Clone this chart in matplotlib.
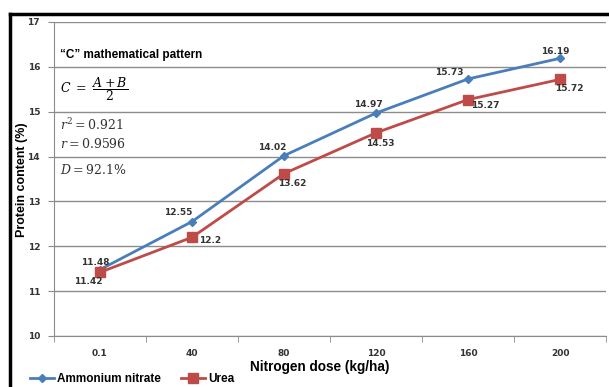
import matplotlib.pyplot as plt
from matplotlib.lines import Line2D

# data
doses = ["0.1", "40", "80", "120", "160", "200"]
ammonium_nitrate = [11.48, 12.55, 14.02, 14.97, 15.73, 16.19]
urea = [11.42, 12.2, 13.62, 14.53, 15.27, 15.72]

# label offsets (pixels) for the data labels
an_offsets = [(-5, 7), (-14, 9), (-12, 8), (-8, 9), (-19, 6), (-5, 7)]
urea_offsets = [(-12, -9), (18, -3), (8, -10), (4, -11), (17, -6), (9, -9)]

blue = "#4A7EBB"
red = "#BE4B48"
grid_col = "#8C8C8C"

plt.rcParams["mathtext.fontset"] = "dejavuserif"

fig = plt.figure(figsize=(6.09, 3.87), dpi=100)
ax = fig.add_axes([54 / 609, 1 - 336 / 387, 552 / 609, 314 / 387])

x = list(range(len(doses)))
ax.plot(x, ammonium_nitrate, color=blue, lw=2, marker="D", ms=4,
        label="Ammonium nitrate")
ax.plot(x, urea, color=red, lw=2, marker="s", ms=6.5, label="Urea")

for i, v in enumerate(ammonium_nitrate):
    ax.annotate(f"{v:g}", (i, v), xytext=an_offsets[i], textcoords="offset pixels",
                ha="center", va="center", fontsize=6.5, fontweight="bold",
                color="#333333")
for i, v in enumerate(urea):
    ax.annotate(f"{v:g}", (i, v), xytext=urea_offsets[i], textcoords="offset pixels",
                ha="center", va="center", fontsize=6.5, fontweight="bold",
                color="#333333")

ax.set_xlim(-0.5, len(doses) - 0.5)
ax.set_ylim(10, 17)
ax.set_yticks(range(10, 18))
ax.set_xticks(x)
ax.set_xticklabels(doses)
ax.set_xticks([i - 0.5 for i in range(len(doses) + 1)], minor=True)
ax.tick_params(axis="x", which="major", length=0, pad=9)
ax.tick_params(axis="x", which="minor", length=4, color=grid_col)
ax.tick_params(axis="y", length=4, color=grid_col, pad=6)
for lab in ax.get_xticklabels() + ax.get_yticklabels():
    lab.set_fontsize(6.5)
    lab.set_fontweight("bold")
    lab.set_color("#333333")

ax.grid(axis="y", color=grid_col, lw=1)
ax.set_axisbelow(True)
for s in ["top", "right"]:
    ax.spines[s].set_visible(False)
for s in ["left", "bottom"]:
    ax.spines[s].set_color(grid_col)

# axis titles placed where the reference has them
fig.text(320 / 609, 1 - 367 / 387, "Nitrogen dose (kg/ha)", fontsize=9.8,
         fontweight="bold", ha="center", va="center", family="Liberation Sans")
fig.text(22 / 609, 1 - 180 / 387, "Protein content (%)", fontsize=9,
         fontweight="bold", ha="center", va="center", rotation=90,
         family="Liberation Sans")

# pattern text block
ax.text(0.011, 0.895, "\u201cC\u201d mathematical pattern", transform=ax.transAxes,
        fontsize=8.5, fontweight="bold", va="center", family="Liberation Sans")
ax.text(0.011, 0.785, r"$C\ =\ \dfrac{A+B}{2}$", transform=ax.transAxes,
        fontsize=9, va="center")
ax.text(0.011, 0.672, r"$r^2 = 0.921$", transform=ax.transAxes, fontsize=9,
        va="center", color="#333333")
ax.text(0.011, 0.61, r"$r = 0.9596$", transform=ax.transAxes, fontsize=9,
        va="center", color="#333333")
ax.text(0.011, 0.53, r"$D = 92.1\%$", transform=ax.transAxes, fontsize=9,
        va="center", color="#333333")

leg = fig.legend(loc="center left", bbox_to_anchor=(24 / 609, 1 - 379 / 387), ncol=2,
                 frameon=False, prop={"family": "Liberation Sans", "size": 8.5,
                                      "weight": "bold"},
                 handlelength=2.0, columnspacing=1.7, handletextpad=0.3,
                 borderpad=0)

# black frame lines on left and top
fig.add_artist(Line2D([10 / 609, 10 / 609], [0, 1 - 14 / 387], color="black", lw=2.5,
                      transform=fig.transFigure))
fig.add_artist(Line2D([10 / 609, 1], [1 - 14 / 387, 1 - 14 / 387], color="black",
                      lw=2.5, transform=fig.transFigure))

plt.savefig("out.png", dpi=100)
